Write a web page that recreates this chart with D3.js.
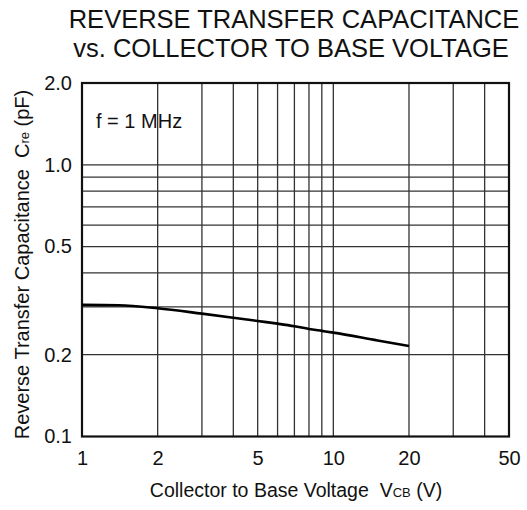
<!DOCTYPE html>
<html><head><meta charset="utf-8">
<script src="https://cdn.jsdelivr.net/npm/d3@7"></script>
<style>body{margin:0;background:#fff}svg{display:block}text{font-family:"Liberation Sans",Arial,sans-serif;fill:#111;white-space:pre}</style>
</head><body><svg id="c" width="527" height="510"></svg>
<script>
const vcb = [1, 1.4, 2, 3, 4, 5, 6, 7, 8, 9, 10, 15, 20];
const cre = [0.305, 0.304, 0.2964, 0.2832, 0.2737, 0.2662, 0.2602, 0.2546, 0.2488, 0.2447, 0.2411, 0.2256, 0.2154];
const xTicks = [1, 2, 5, 10, 20, 50];
const yTicks = [0.1, 0.2, 0.5, 1.0, 2.0];
const xGrid = [2, 3, 4, 5, 6, 7, 8, 9, 10, 20, 30, 40];
const yGrid = [0.2, 0.3, 0.4, 0.5, 0.6, 0.7, 0.8, 0.9, 1.0];

const svg = d3.select("#c");
const L = 82, R = 509, T = 83, B = 436.5;
const x = d3.scaleLog().domain([1, 50]).range([L, R]);
const y = d3.scaleLog().domain([0.1, 2.0]).range([B, T]);

// title
const title = svg.append("text").attr("text-anchor", "middle").style("font-size", "25.5px");
title.append("tspan").attr("x", 294).attr("y", 28).text("REVERSE TRANSFER CAPACITANCE");
title.append("tspan").attr("x", 291).attr("y", 57).text("vs. COLLECTOR TO BASE VOLTAGE");

// grid
svg.append("g").selectAll("line").data(xGrid).join("line")
  .attr("x1", d => x(d)).attr("x2", d => x(d)).attr("y1", T).attr("y2", B)
  .attr("stroke", "#333").attr("stroke-width", 1.3);
svg.append("g").selectAll("line").data(yGrid).join("line")
  .attr("y1", d => y(d)).attr("y2", d => y(d)).attr("x1", L).attr("x2", R)
  .attr("stroke", "#333").attr("stroke-width", 1.3);

// frame
svg.append("rect").attr("x", L).attr("y", T).attr("width", R - L).attr("height", B - T)
  .attr("fill", "none").attr("stroke", "#111").attr("stroke-width", 2.2);

// axes (labels only)
const xAxis = d3.axisBottom(x).tickValues(xTicks).tickSize(0).tickPadding(14).tickFormat(d3.format("d"));
const gx = svg.append("g").attr("transform", `translate(0,${B})`).call(xAxis);
gx.select(".domain").remove();
gx.selectAll("text").style("font-size", "20px").attr("fill", "#111");

const yAxis = d3.axisLeft(y).tickValues(yTicks).tickSize(0).tickPadding(10).tickFormat(d3.format(".1f"));
const gy = svg.append("g").attr("transform", `translate(${L},0)`).call(yAxis);
gy.select(".domain").remove();
gy.selectAll("text").style("font-size", "20px").attr("fill", "#111");

// curve
const line = d3.line().x((d, i) => x(vcb[i])).y(d => y(d)).curve(d3.curveMonotoneX);
svg.append("path").attr("d", line(cre)).attr("fill", "none").attr("stroke", "#000").attr("stroke-width", 2.6);

// annotation
svg.append("text").attr("x", 96).attr("y", 128).style("font-size", "20px").text("f = 1 MHz");

// x title
const xt = svg.append("text").attr("x", 296).attr("y", 497).attr("text-anchor", "middle").style("font-size", "19.5px");
xt.append("tspan").text("Collector to Base Voltage  V");
xt.append("tspan").style("font-size", "13px").text("CB");
xt.append("tspan").text(" (V)");

// y title
const yt = svg.append("text").attr("transform", `translate(29,264.5) rotate(-90)`)
  .attr("text-anchor", "middle").style("font-size", "20px");
yt.append("tspan").text("Reverse Transfer Capacitance  C");
yt.append("tspan").style("font-size", "13px").text("re");
yt.append("tspan").text(" (pF)");
</script></body></html>
